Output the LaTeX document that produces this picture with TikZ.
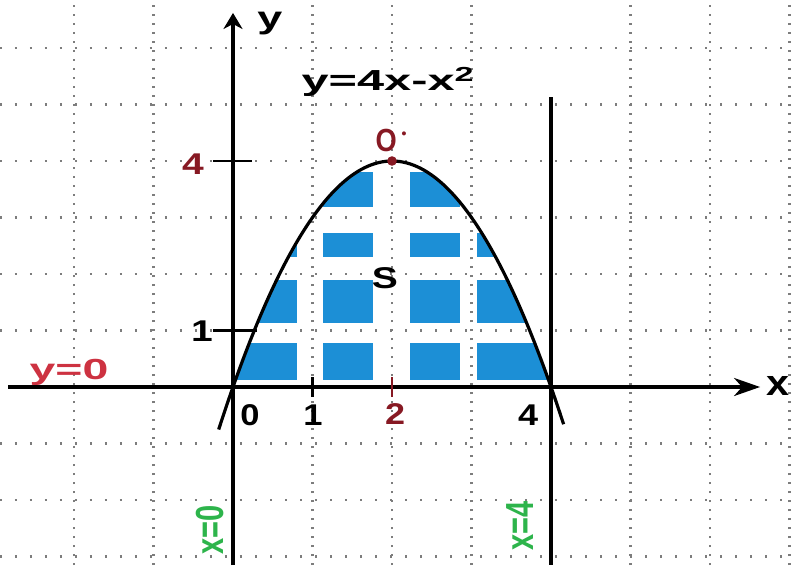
\documentclass[tikz,border=0pt]{standalone}
\usepackage{fontspec}
\setmainfont{Liberation Sans}
\usetikzlibrary{arrows.meta}
\definecolor{dred}{RGB}{135,25,35}
\definecolor{lred}{RGB}{205,50,65}
\definecolor{lgreen}{RGB}{45,180,75}
\definecolor{sblue}{RGB}{28,143,214}
\definecolor{gridc}{RGB}{125,125,125}
\newcommand\hstretch[2]{\scalebox{#1}[1]{#2}}
\tikzset{
  hgrid/.style={gridc, line width=2.4pt, dash pattern=on 2.4pt off 12.6pt},
  vgrid/.style={gridc, line width=2.4pt, dash pattern=on 2.4pt off 6.6pt},
  axis/.style={black, line width=3.4pt},
  curve/.style={black, line width=3.2pt},
  tickm/.style={black, line width=2.6pt},
  lbl/.style={inner sep=0pt, font=\fontsize{30}{33}\selectfont\bfseries},
  band/.style={fill=white, draw=none}
}
\begin{document}
\begin{tikzpicture}[x=79.5pt,y=56.5pt]
\useasboundingbox (-2.9308,-3.1504) rectangle (7.0314,6.8496);
\fill[white] (-2.9308,-3.1504) rectangle (7.0314,6.8496);
% region S
\fill[sblue] plot[domain=0:4, samples=80, smooth] (\x,{4*\x-\x*\x}) -- cycle;
\begin{scope}
  \clip plot[domain=0:4, samples=80, smooth] (\x,{4*\x-\x*\x}) -- cycle;
  \fill[band] (0.805,-0.1) rectangle (1.132,4.2);
  \fill[band] (1.761,-0.1) rectangle (2.226,4.2);
  \fill[band] (2.855,-0.1) rectangle (3.069,4.2);
  \fill[band] (-0.1,0.779) rectangle (4.1,1.133);
  \fill[band] (-0.1,1.894) rectangle (4.1,2.30);
  \fill[band] (-0.1,2.726) rectangle (4.1,3.186);
  \fill[band] (-0.1,-0.1) rectangle (4.1,0.124);
  \fill[band] (-0.1,3.80) rectangle (4.1,4.2);
\end{scope}
% grid
\foreach \gy in {-3,-2,-1,1,2,3,4,5,6}
  \draw[hgrid] (-2.9308,\gy) -- (7.0314,\gy);
\foreach \gx in {-2,-1,1,2,3,5,6,7}
  \draw[vgrid] (\gx,-3.1504) -- (\gx,6.8496);
% axes
\coordinate (xa) at (-2.83,0);
\coordinate (xb) at (6.63,0);
\coordinate (ya) at (0,-3.1504);
\coordinate (yb) at (0,6.62);
\draw[axis, -{Stealth[length=26pt,width=18pt,inset=8pt]}] (xa) -- (xb);
\draw[axis, -{Stealth[length=16pt,width=19pt,inset=5pt]}] (ya) -- (yb);
% line x=4
\coordinate (la) at (4,5.13);
\coordinate (lb) at (4,-3.1504);
\draw[axis, line width=3.2pt] (la) -- (lb);
% parabola
\draw[curve] plot[domain=-0.18:4.16, samples=100, smooth] (\x,{4*\x-\x*\x});
% ticks
\coordinate (t4a) at (-0.25,4); \coordinate (t4b) at (0.24,4);
\coordinate (t1a) at (-0.25,1); \coordinate (t1b) at (0.30,1);
\coordinate (x1a) at (1,0.17); \coordinate (x1b) at (1,-0.17);
\coordinate (x2a) at (2,0.17); \coordinate (x2b) at (2,-0.17);
\draw[tickm] (t4a) -- (t4b);
\draw[tickm] (t1a) -- (t1b);
\draw[tickm] (x1a) -- (x1b);
\draw[tickm, dred] (x2a) -- (x2b);
% vertex
\fill[dred] (2,4) circle (4.8pt);
% labels
\node[lbl, font=\fontsize{29}{32}\selectfont\bfseries] (title) at (1.95,5.40) {\hstretch{1.68}{y=4x-x\textsuperscript{2}}};
\node[lbl, font=\fontsize{31}{34}\selectfont\bfseries] (ylab) at (0.465,6.43) {\hstretch{1.45}{y}};
\node[lbl, font=\fontsize{36}{38}\selectfont\bfseries] (xlab) at (6.855,0.02) {\hstretch{1.15}{x}};
\node[lbl] (S) at (1.912,1.93) {\hstretch{1.3}{S}};
\node[lbl, dred, anchor=west, font=\fontsize{32}{34}\selectfont\bfseries] (Op) at (1.79,4.36) {\hstretch{0.85}{O}\hspace{5pt}\raisebox{13pt}{\fontsize{14}{14}\selectfont\textbullet}};
\node[lbl, dred] (n4y) at (-0.503,3.95) {\hstretch{1.3}{4}};
\node[lbl] (n1y) at (-0.39,0.99) {\hstretch{1.3}{1}};
\node[lbl] (n0) at (0.214,-0.50) {\hstretch{1.15}{0}};
\node[lbl] (n1) at (1.006,-0.50) {\hstretch{1.15}{1}};
\node[lbl, dred] (n2) at (2.04,-0.48) {\hstretch{1.2}{2}};
\node[lbl] (n4) at (3.711,-0.50) {\hstretch{1.2}{4}};
\node[lbl, lred, font=\fontsize{29}{32}\selectfont\bfseries] (y0) at (-2.063,0.25) {\hstretch{1.6}{y=0}};
\node[lbl, lgreen, font=\fontsize{29}{32}\selectfont\bfseries] (x0) at (-0.289,-2.53) {\hstretch{1.35}{\rotatebox{90}{x=0}}};
\node[lbl, lgreen, font=\fontsize{29}{32}\selectfont\bfseries] (x4) at (3.61,-2.46) {\hstretch{1.35}{\rotatebox{90}{x=4}}};
\end{tikzpicture}
\end{document}
